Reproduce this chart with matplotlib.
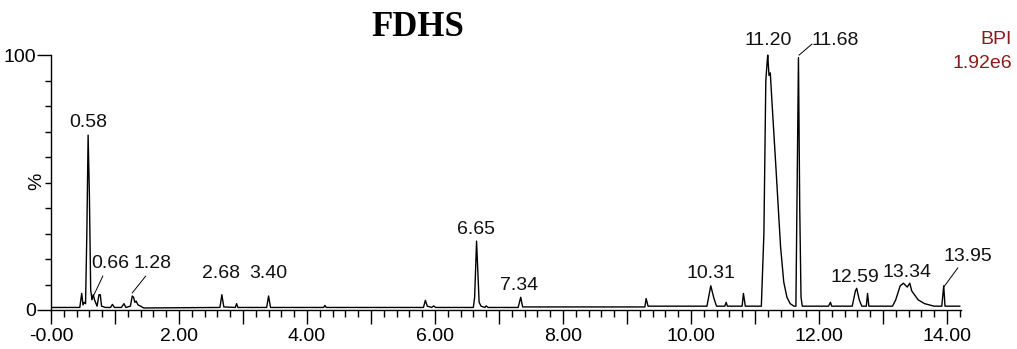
import matplotlib
matplotlib.use("Agg")
import numpy as np
import matplotlib.pyplot as plt
from matplotlib.ticker import MultipleLocator, FixedLocator, FuncFormatter

plt.rcParams['font.family'] = ['Liberation Sans Narrow', 'Liberation Sans', 'DejaVu Sans']

# BPI trace, retention time (min) vs relative intensity (%)
rt = [0.00, 0.45, 0.48, 0.50, 0.52, 0.54, 0.56, 0.58, 0.60, 0.62, 0.64, 0.66, 0.68,
      0.72, 0.75, 0.77, 0.79, 0.85, 0.93, 0.96, 0.99, 1.10, 1.14, 1.17, 1.24, 1.27,
      1.29, 1.31, 1.33, 1.36, 1.40, 1.45, 2.64, 2.67, 2.70, 2.88, 2.90, 2.92, 3.37,
      3.40, 3.43, 4.26, 4.28, 4.30, 5.82, 5.85, 5.88, 5.95, 5.98, 6.01, 6.60, 6.62,
      6.65, 6.67, 6.69, 6.72, 6.78, 6.80, 6.83, 7.30, 7.34, 7.37, 9.28, 9.30, 9.33,
      10.25, 10.31, 10.36, 10.40, 10.53, 10.55, 10.57, 10.80, 10.82, 10.85, 11.10,
      11.14, 11.17, 11.19, 11.20, 11.22, 11.24, 11.27, 11.33, 11.40, 11.45, 11.50,
      11.55, 11.61, 11.64, 11.66, 11.68, 11.70, 11.72, 11.74, 12.15, 12.18, 12.20,
      12.52, 12.57, 12.59, 12.63, 12.67, 12.74, 12.76, 12.78, 13.15, 13.20, 13.27,
      13.32, 13.38, 13.42, 13.45, 13.55, 13.65, 13.80, 13.92, 13.95, 13.97, 14.20]
intensity = [1.0, 1.0, 6.5, 2.0, 3.0, 2.5, 30, 68.6, 45, 8, 4, 6, 4,
             1.5, 6, 6, 1.5, 1, 1, 2.2, 1, 1, 2.5, 1, 1.5, 5.5,
             5, 3, 3.5, 2, 1.5, 0.8, 1, 6, 1.2, 1, 2.5, 1, 1,
             5.5, 1, 1, 1.8, 1, 1, 3.8, 1.5, 1, 1.6, 1, 1, 5,
             27, 15, 3, 1.5, 1, 1.6, 1, 1.0, 5, 1.2, 1.2, 4.5, 1.5,
             1.5, 9.5, 4.5, 1.5, 1.5, 3, 1.5, 1.5, 6.5, 1.5, 1.5,
             30, 90, 97, 100, 92, 93, 80, 55, 25, 11, 5,
             2.5, 1.5, 1.5, 50, 99, 40, 5, 1.5, 1.5, 3, 1.5,
             1.5, 7.5, 8.5, 4.0, 1.5, 1.5, 6.5, 1.5, 1.5, 4, 9.5,
             10.5, 9, 10.5, 7.5, 4, 2.5, 1.5, 1.5, 9.5, 1.5, 1.5]

peak_labels = ["0.58", "0.66", "1.28", "2.68", "3.40", "6.65", "7.34",
               "10.31", "11.20", "11.68", "12.59", "13.34", "13.95"]
label_xy = [(0.578, 73.7), (0.92, 18.4), (1.58, 18.4), (2.66, 14.5), (3.39, 14.5),
            (6.64, 31.4), (7.31, 9.8), (10.31, 14.5), (11.20, 105.9), (12.25, 105.9),
            (12.56, 12.9), (13.38, 14.9), (14.33, 20.8)]
# leader lines for the offset labels: (peak point, label end)
leaders = [((0.64, 4.3), (0.81, 13.3)), ((1.27, 6.7), (1.48, 13.3)),
           ((11.69, 100), (11.89, 104.3)), ((13.95, 9.0), (14.17, 16.5))]

W, H = 1017, 349
fig = plt.figure(figsize=(W / 100, H / 100), dpi=100)
ax = fig.add_axes([51 / W, 39 / H, (961 - 51) / W, 310 / H])

ax.plot(rt, intensity, color='black', lw=1.0)

for txt, (x, y) in zip(peak_labels, label_xy):
    ax.text(x, y, txt, ha='center', va='center', fontsize=14, color='#111111')
for (p0, p1) in leaders:
    ax.plot([p0[0], p1[0]], [p0[1], p1[1]], color='black', lw=0.7)

ax.set_xlim(0, 14.22)
ax.set_ylim(0, 121.6)
for s in ['top', 'right']:
    ax.spines[s].set_visible(False)
ax.spines['left'].set_bounds(0, 100)
ax.spines['left'].set_linewidth(1.0)
ax.spines['bottom'].set_linewidth(1.0)

ax.xaxis.set_major_locator(MultipleLocator(1))
ax.xaxis.set_minor_locator(MultipleLocator(0.2))
ax.xaxis.set_major_formatter(FuncFormatter(
    lambda v, p: ('-0.00' if abs(v) < 1e-9 else f'{v:.2f}') if round(v) % 2 == 0 else ''))
ax.tick_params(axis='x', which='major', length=10, width=1, direction='out', labelsize=14, pad=3)
ax.tick_params(axis='x', which='minor', length=5, width=1, direction='out')

ax.yaxis.set_major_locator(FixedLocator([0, 100]))
ax.yaxis.set_minor_locator(FixedLocator(list(range(10, 100, 10))))
ax.tick_params(axis='y', which='major', length=10, width=1, direction='out', labelsize=14, pad=1)
ax.tick_params(axis='y', which='minor', length=4, width=1, direction='out')

fig.text(37 / W, 1 - 181 / H, '%', rotation=90, ha='center', va='center', fontsize=14)

fig.text(418 / W, 1 - 27 / H, 'FDHS', ha='center', va='center', fontsize=25,
         fontweight='bold', family='Liberation Serif')
fig.text(1012 / W, 1 - 40 / H, 'BPI', ha='right', va='center', fontsize=14, color='#8b1a1a')
fig.text(1012 / W, 1 - 64 / H, '1.92e6', ha='right', va='center', fontsize=14, color='#8b1a1a')

fig.savefig('out.png', dpi=100)
